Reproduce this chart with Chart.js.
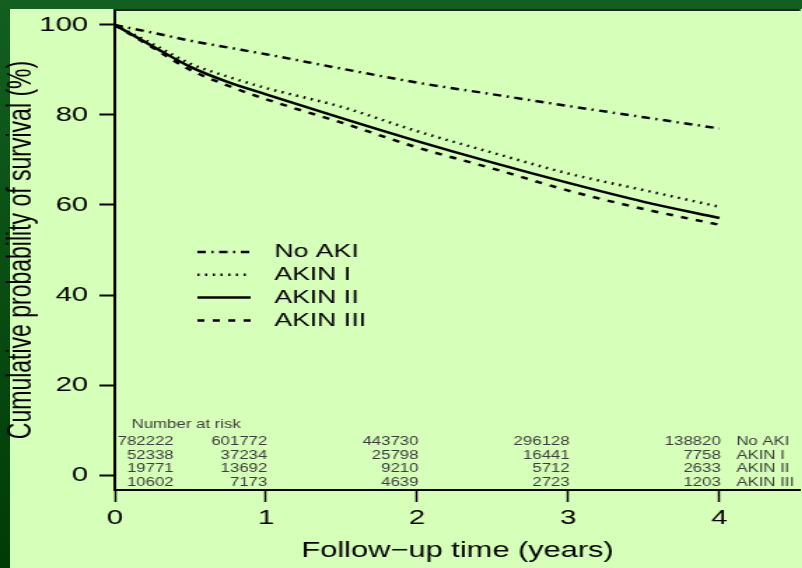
<!DOCTYPE html>
<html>
<head>
<meta charset="utf-8">
<script src="https://cdn.jsdelivr.net/npm/chart.js@4"></script>
<style>
  html, body { margin: 0; padding: 0; }
  body { width: 802px; height: 568px; overflow: hidden; position: relative;
         background: linear-gradient(#125f20, #003c06); }
  #panel { position: absolute; left: 10px; top: 9px; right: 0; bottom: 0; background: #d6ffb9; }
  /* the reference is stretched sideways, so the chart is drawn narrow and widened */
  #wrap { position: absolute; left: 0; top: 0; width: 573px; height: 568px;
          transform: scaleX(1.4); transform-origin: 0 0; }
</style>
</head>
<body>
<div id="panel"></div>
<div id="wrap"><canvas id="km"></canvas></div>
<script>
// follow-up time (years)
const years = [0, 0.25, 0.5, 0.75, 1, 1.5, 2, 2.5, 3, 3.5, 4];

// cumulative survival (%)
const noAki = [100, 98.3, 96.5, 95.0, 93.5, 90.3, 87.2, 84.6, 82.0, 79.5, 77.0];
const akin1 = [100, 95.8, 91.4, 88.5, 86.0, 81.8, 76.4, 71.6, 67.0, 63.3, 59.6];
const akin2 = [100, 95.3, 90.7, 87.3, 84.6, 79.3, 74.2, 69.4, 64.9, 60.7, 57.1];
const akin3 = [100, 95.0, 90.0, 86.5, 83.5, 78.3, 72.8, 68.1, 63.2, 59.1, 55.6];

const seriesNames = ['No AKI', 'AKIN I', 'AKIN II', 'AKIN III'];

// number at risk at 0,1,2,3,4 years
const riskNoAki = [782222, 601772, 443730, 296128, 138820];
const riskAkin1 = [52338, 37234, 25798, 16441, 7758];
const riskAkin2 = [19771, 13692, 9210, 5712, 2633];
const riskAkin3 = [10602, 7173, 4639, 2723, 1203];

const xTicks = [0, 1, 2, 3, 4];
const yTicks = [0, 20, 40, 60, 80, 100];

const FONT = '"Liberation Sans", Arial, Helvetica, sans-serif';

function pts(vals) {
  return years.map((t, i) => ({ x: t, y: vals[i] }));
}

const extras = {
  id: 'extras',
  afterDraw(chart) {
    const { ctx, chartArea, scales } = chart;
    const x = scales.x;
    ctx.save();

    // top of the frame
    ctx.strokeStyle = '#222';
    ctx.lineWidth = 2;
    ctx.beginPath();
    ctx.moveTo(chartArea.left, chartArea.top);
    ctx.lineTo(chartArea.right, chartArea.top);
    ctx.stroke();

    // legend
    ctx.font = '19px ' + FONT;
    ctx.textBaseline = 'middle';
    ctx.textAlign = 'left';
    chart.data.datasets.forEach((ds, i) => {
      const yy = 252 + i * 22.8;
      ctx.strokeStyle = '#000';
      ctx.lineWidth = ds.borderWidth;
      ctx.setLineDash(ds.borderDash || []);
      ctx.beginPath();
      ctx.moveTo(141, yy);
      ctx.lineTo(179, yy);
      ctx.stroke();
      ctx.setLineDash([]);
      ctx.fillStyle = '#000';
      ctx.fillText(ds.label, 196, yy);
    });

    // number at risk table
    ctx.font = '12px ' + FONT;
    ctx.fillStyle = '#3c3c3c';
    ctx.fillText('Number at risk', 94, 425);
    const rows = [riskNoAki, riskAkin1, riskAkin2, riskAkin3];
    rows.forEach((row, r) => {
      const yy = 442 + r * 13.4;
      ctx.textAlign = 'right';
      row.forEach((n, c) => {
        const xx = c === 0 ? x.getPixelForValue(0) + 42 : x.getPixelForValue(xTicks[c]) + 1;
        ctx.fillText(String(n), xx, yy);
      });
      ctx.textAlign = 'left';
      ctx.fillText(seriesNames[r], x.getPixelForValue(4) + 12, yy);
    });
    ctx.restore();
  }
};

new Chart(document.getElementById('km'), {
  type: 'line',
  data: {
    datasets: [
      { label: seriesNames[0], data: pts(noAki), borderDash: [6, 4, 1.5, 4], borderWidth: 2.5 },
      { label: seriesNames[1], data: pts(akin1), borderDash: [1.5, 4], borderWidth: 2.5 },
      { label: seriesNames[2], data: pts(akin2), borderDash: [], borderWidth: 2.5 },
      { label: seriesNames[3], data: pts(akin3), borderDash: [5, 6], borderWidth: 2.5 }
    ]
  },
  options: {
    responsive: true,
    maintainAspectRatio: false,
    animation: false,
    devicePixelRatio: 1,
    layout: { padding: { top: 10, left: 0, right: 0, bottom: 0 } },
    elements: {
      point: { radius: 0 },
      line: { borderColor: '#000', cubicInterpolationMode: 'monotone', borderCapStyle: 'butt', fill: false }
    },
    plugins: { legend: { display: false }, tooltip: { enabled: false } },
    scales: {
      x: {
        type: 'linear',
        min: 0,
        max: 4.536,
        afterBuildTicks: s => { s.ticks = xTicks.map(v => ({ value: v })); },
        afterFit: s => { s.height = 78; s.paddingLeft = 0; s.paddingRight = 0; },
        grid: { drawOnChartArea: false, drawTicks: true, tickLength: 12, tickWidth: 1.5, tickColor: '#000' },
        border: { display: true, color: '#000', width: 2 },
        ticks: { color: '#000', font: { family: FONT, size: 21 }, padding: 4, maxRotation: 0 },
        title: { display: true, text: 'Follow\u2212up time (years)', color: '#000',
                 font: { family: FONT, size: 22 }, padding: { top: 0, bottom: 4 } }
      },
      y: {
        min: -3.333,
        max: 103.333,
        afterBuildTicks: s => { s.ticks = yTicks.map(v => ({ value: v })); },
        afterFit: s => { s.width = 82; s.paddingTop = 0; s.paddingBottom = 0; },
        grid: { drawOnChartArea: false, drawTicks: true, tickLength: 11, tickWidth: 2, tickColor: '#000' },
        border: { display: true, color: '#000', width: 2 },
        ticks: { color: '#000', font: { family: FONT, size: 21 }, padding: 8 },
        title: { display: true, text: 'Cumulative probability of survival (%)', color: '#000',
                 font: { family: FONT, size: 23 }, padding: { top: 2, bottom: 0 } }
      }
    }
  },
  plugins: [extras]
});
</script>
</body>
</html>
